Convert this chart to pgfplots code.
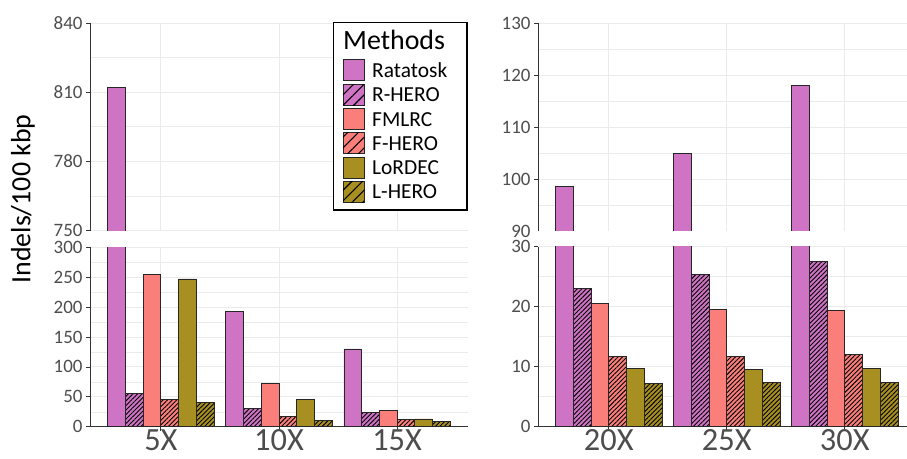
\documentclass[border=0pt]{standalone}
\usepackage{fontspec}
\setmainfont{Carlito}
\usepackage{pgfplots}
\pgfplotsset{compat=1.18}
\usetikzlibrary{patterns.meta}
\definecolor{rat}{HTML}{CF73C4}
\definecolor{fml}{HTML}{FA7F7B}
\definecolor{lor}{HTML}{A88F22}
\definecolor{tickc}{HTML}{4D4D4D}
\definecolor{gridc}{HTML}{EBEBEB}

\pgfplotsset{
  brk/.style={scale only axis, xmin=0.4, xmax=3.6, xtick={1,2,3},
    axis x line*=bottom, axis y line*=left,
    axis line style={-, draw=black!80, line width=0.9pt},
    tick align=outside, major tick length=4bp, minor tick length=0pt,
    tick style={draw=black!80, line width=0.8pt},
    minor y tick num=1,
    xmajorgrids, ymajorgrids, yminorgrids,
    major grid style={gridc, line width=0.9pt},
    minor grid style={gridc, line width=0.5pt},
    /pgf/number format/assume math mode=true,
    yticklabel style={font=\fontsize{19}{20}\selectfont, text=tickc},
    xticklabel style={font=\fontsize{32.5}{34}\selectfont, text=tickc, yshift=2.5bp, inner sep=1bp},
  },
  upper/.style={xticklabels={}, xtick style={draw=none}, x axis line style={draw=none}},
  b/.style={ybar, bar width=0.15, bar shift=#1, draw=black!85, line width=0.8pt},
  hb/.style={postaction={pattern color=black, pattern={Lines[angle=45,distance=3.2bp,line width=0.9bp]}}},
}

\begin{document}
\begin{tikzpicture}
\useasboundingbox (0,0) rectangle (907bp,459bp);

% ---------- Left upper (extended 5 units below 750, hidden by the gap) ----------
\begin{axis}[brk, upper, at={(90bp,217bp)}, anchor=south west,
  width=378bp, height=219bp, ymin=745, ymax=840, ytick={750,780,810,840},
  minor ytick={765,795,825}, minor y tick num=0]
\addplot[b=-0.375, fill=rat] coordinates {(1,812)};
\end{axis}

% ---------- Right upper (extended 2 units below 90) ----------
\begin{axis}[brk, upper, at={(538bp,217.6bp)}, anchor=south west,
  width=377.6bp, height=218.1bp, ymin=88, ymax=130, ytick={90,100,...,130},
  minor ytick={95,105,115,125}, minor y tick num=0]
\addplot[b=-0.375, fill=rat] coordinates {(1,98.6) (2,104.9) (3,118.1)};
\end{axis}

% ---------- white gap between the broken panels ----------
\fill[white] (84bp,212.3bp) rectangle (470bp,228.0bp);
\fill[white] (532bp,212.8bp) rectangle (910bp,227.6bp);

% ---------- Left lower ----------
\begin{axis}[brk, at={(90bp,32.3bp)}, anchor=south west,
  width=378bp, height=179.4bp, ymin=0, ymax=300, ytick={0,50,...,300},
  xticklabels={5X,10X,15X}]
\addplot[b=-0.375, fill=rat] coordinates {(1,812) (2,193) (3,130)};
\addplot[b=-0.225, fill=rat, hb] coordinates {(1,55) (2,31) (3,24)};
\addplot[b=-0.075, fill=fml] coordinates {(1,255) (2,72) (3,27.4)};
\addplot[b=0.075, fill=fml, hb] coordinates {(1,46) (2,17.4) (3,12.4)};
\addplot[b=0.225, fill=lor] coordinates {(1,247) (2,45) (3,13)};
\addplot[b=0.375, fill=lor, hb] coordinates {(1,40) (2,11) (3,8.4)};
\end{axis}

% ---------- Right lower ----------
\begin{axis}[brk, at={(538bp,32.3bp)}, anchor=south west,
  width=377.6bp, height=180bp, ymin=0, ymax=30, ytick={0,10,20,30},
  xticklabels={20X,25X,30X}]
\addplot[b=-0.375, fill=rat] coordinates {(1,98.6) (2,104.9) (3,118.1)};
\addplot[b=-0.225, fill=rat, hb] coordinates {(1,23.0) (2,25.3) (3,27.5)};
\addplot[b=-0.075, fill=fml] coordinates {(1,20.6) (2,19.6) (3,19.4)};
\addplot[b=0.075, fill=fml, hb] coordinates {(1,11.7) (2,11.7) (3,12.0)};
\addplot[b=0.225, fill=lor] coordinates {(1,9.7) (2,9.6) (3,9.7)};
\addplot[b=0.375, fill=lor, hb] coordinates {(1,7.2) (2,7.33) (3,7.33)};
\end{axis}

% ---------- y label ----------
\node[rotate=90, font=\fontsize{28}{30}\selectfont, anchor=center] at (23bp,260bp) {Indels/100 kbp};

% ---------- legend ----------
\draw[black, line width=1.2pt, fill=white] (333.3bp,436.3bp) rectangle (467bp,249bp);
\node[anchor=base west, font=\fontsize{28}{30}\selectfont, inner sep=0pt] at (343bp,409bp) {Methods};
\tikzset{lk/.style={draw=black!85, line width=1pt},
  lh/.style={postaction={pattern color=black, pattern={Lines[angle=45,distance=7.5bp,line width=1.1bp]}}},
  lt/.style={anchor=base west, font=\fontsize{21.5}{23}\selectfont, inner sep=0pt}}
\draw[lk, fill=rat] (343bp,378bp) rectangle (364bp,399bp);
\node[lt] at (372bp,381.5bp) {Ratatosk};
\draw[lk, fill=rat, lh] (343bp,353.7bp) rectangle (364bp,374.7bp);
\node[lt] at (372bp,357.2bp) {R-HERO};
\draw[lk, fill=fml] (343bp,329.4bp) rectangle (364bp,350.4bp);
\node[lt] at (372bp,332.9bp) {FMLRC};
\draw[lk, fill=fml, lh] (343bp,305.1bp) rectangle (364bp,326.1bp);
\node[lt] at (372bp,308.6bp) {F-HERO};
\draw[lk, fill=lor] (343bp,280.8bp) rectangle (364bp,301.8bp);
\node[lt] at (372bp,284.3bp) {LoRDEC};
\draw[lk, fill=lor, lh] (343bp,256.5bp) rectangle (364bp,277.5bp);
\node[lt] at (372bp,260bp) {L-HERO};
\end{tikzpicture}
\end{document}
